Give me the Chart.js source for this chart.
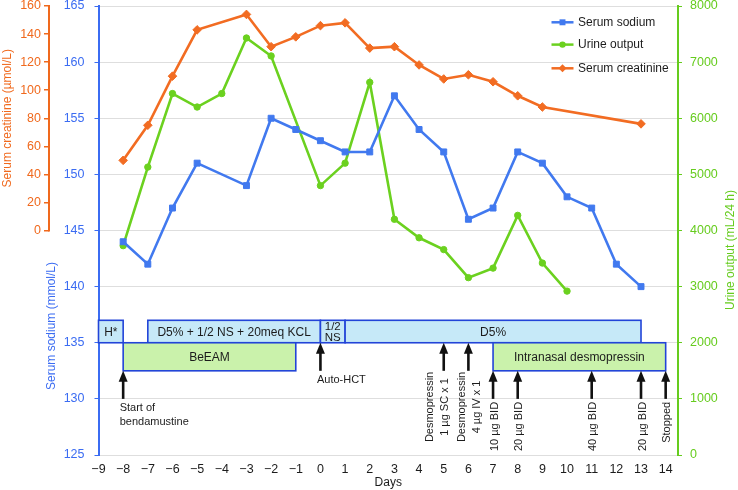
<!DOCTYPE html>
<html>
<head>
<meta charset="utf-8">
<title>Serum sodium, urine output and serum creatinine</title>
<script src="https://cdn.jsdelivr.net/npm/chart.js@4.4.1/dist/chart.umd.min.js"></script>
<style>
  html, body { margin: 0; padding: 0; background: #fff; }
  #mycanvas { display: block; }
</style>
</head>
<body>
<canvas id="mycanvas" width="738" height="490"></canvas>
<script>
// ---- data ----
var days       = [-8, -7, -6, -5, -4, -3, -2, -1, 0, 1, 2, 3, 4, 5, 6, 7, 8, 9, 10, 11, 12, 13];
var sodium     = [144, 142, 147, 151, null, 149, 155, 154, 153, 152, 152, 157, 154, 152, 146, 147, 152, 151, 148, 147, 142, 140];
var urine      = [3730, 5130, 6440, 6200, 6440, 7430, 7110, null, 4800, 5200, 6640, 4200, 3870, 3660, 3160, 3330, 4270, 3420, 2920, null, null, null];
var creatinine = [50, 75, 110, 143, null, 154, 131, 138, 146, 148, 130, 131, 118, 108, 111, 106, 96, 88, null, null, null, 76];

// treatment bars (days)
var barFrom = [-9, -7, 0, 1, -8, 7];
var barTo   = [-8, 0, 1, 13, -1, 14];
var barRow  = ['iv', 'iv', 'iv', 'iv', 'drug', 'drug'];
var barText = ['H*', 'D5% + 1/2 NS + 20meq KCL', '1/2\nNS', 'D5%', 'BeEAM', 'Intranasal desmopressin'];

// events
var eventDay  = [-8, 0, 5, 6, 7, 8, 11, 13, 14];
var eventText = ['Start of\nbendamustine', 'Auto-HCT', 'Desmopressin\n1 \u00b5g SC x 1', 'Desmopressin\n4 \u00b5g IV x 1',
                 '10 \u00b5g BID', '20 \u00b5g BID', '40 \u00b5g BID', '20 \u00b5g BID', 'Stopped'];

// ---- styles ----
var FONT = '"Liberation Sans", Arial, Helvetica, sans-serif';
Chart.defaults.font.family = FONT;
Chart.defaults.font.size = 12;

var blue = '#4179ef', green = '#6bd11f', orange = '#f26c22';
var axisBlue = '#3b6cf2', axisGreen = '#66cc1e', axisOrange = '#f0691d';
var ink = '#1c1c1c';

function pts(vals) {
  return days.map(function (d, i) { return { x: d, y: vals[i] }; });
}

function lineSet(label, vals, axis, color, style, radius) {
  return {
    label: label,
    data: pts(vals),
    yAxisID: axis,
    borderColor: color,
    backgroundColor: color,
    borderWidth: 2.6,
    pointStyle: style,
    pointRadius: radius,
    pointBorderWidth: 1,
    pointBorderColor: color,
    pointBackgroundColor: color,
    tension: 0,
    spanGaps: true,
    clip: false
  };
}

var sets = [
  lineSet('Serum sodium', sodium, 'yNa', blue, 'rect', 4.2),
  lineSet('Urine output', urine, 'yU', green, 'circle', 3.2),
  lineSet('Serum creatinine', creatinine, 'yC', orange, 'rectRot', 4.3)
];

function drawMarker(ctx, style, x, y, r, color) {
  ctx.fillStyle = color;
  ctx.beginPath();
  if (style === 'rect') {
    var s = r * Math.SQRT1_2;
    ctx.rect(x - s, y - s, 2 * s, 2 * s);
  } else if (style === 'circle') {
    ctx.arc(x, y, r, 0, Math.PI * 2);
  } else {
    ctx.moveTo(x, y - r); ctx.lineTo(x + r, y); ctx.lineTo(x, y + r); ctx.lineTo(x - r, y); ctx.closePath();
  }
  ctx.fill();
}

// keep the plot area flush with the top/bottom gridlines
function fixWidth(w) {
  return function (s) {
    s.width = w;
    s.paddingTop = 0;
    s.paddingBottom = 0;
  };
}

function plainNumber(v) { return String(v); }

var extras = {
  id: 'extras',
  afterDatasetsDraw: function (chart) {
    var ctx = chart.ctx;
    var sx = chart.scales.x, su = chart.scales.yU, sc = chart.scales.yC;
    var i, k;
    ctx.save();

    // creatinine axis line only over 0..160
    ctx.strokeStyle = axisOrange;
    ctx.lineWidth = 2;
    ctx.beginPath();
    ctx.moveTo(sc.right, sc.getPixelForValue(0) + 1);
    ctx.lineTo(sc.right, sc.getPixelForValue(160) - 1);
    ctx.stroke();

    // treatment bars
    ctx.textAlign = 'center';
    ctx.textBaseline = 'middle';
    for (i = 0; i < barText.length; i++) {
      var row = barRow[i] === 'iv' ? [2000, 2400] : [1500, 2000];
      var x0 = sx.getPixelForValue(barFrom[i]), x1 = sx.getPixelForValue(barTo[i]);
      var y0 = su.getPixelForValue(row[1]), y1 = su.getPixelForValue(row[0]);
      ctx.fillStyle = barRow[i] === 'iv' ? '#c6e9f8' : '#caf2ab';
      ctx.fillRect(x0, y0, x1 - x0, y1 - y0);
      ctx.strokeStyle = '#2244d8';
      ctx.lineWidth = 1.6;
      ctx.strokeRect(x0, y0, x1 - x0, y1 - y0);
      ctx.fillStyle = ink;
      var lines = barText[i].split('\n');
      ctx.font = (lines.length > 1 ? '11.5px ' : '12px ') + FONT;
      var cy = (y0 + y1) / 2 - (lines.length - 1) * 5.8;
      for (k = 0; k < lines.length; k++) {
        ctx.fillText(lines[k], (x0 + x1) / 2, cy + k * 11.6 + 0.8);
      }
    }

    // event arrows and labels
    ctx.font = '11px ' + FONT;
    for (i = 0; i < eventDay.length; i++) {
      var d = eventDay[i];
      var onDrug = false;
      for (k = 0; k < barFrom.length; k++) {
        if (barRow[k] === 'drug' && d >= barFrom[k] && d <= barTo[k]) onDrug = true;
      }
      var tip = onDrug ? 1500 : 2000, tail = onDrug ? 1000 : 1500;
      var ax = sx.getPixelForValue(d), ty = su.getPixelForValue(tip), by = su.getPixelForValue(tail);

      ctx.strokeStyle = '#111';
      ctx.fillStyle = '#111';
      ctx.lineWidth = 2.6;
      ctx.beginPath();
      ctx.moveTo(ax, by);
      ctx.lineTo(ax, ty + 8);
      ctx.stroke();
      ctx.beginPath();
      ctx.moveTo(ax, ty);
      ctx.lineTo(ax - 4.5, ty + 11);
      ctx.lineTo(ax + 4.5, ty + 11);
      ctx.closePath();
      ctx.fill();

      var parts = eventText[i].split('\n');
      ctx.fillStyle = ink;
      if (d <= 0) {
        ctx.textAlign = 'left';
        ctx.textBaseline = 'middle';
        for (k = 0; k < parts.length; k++) {
          ctx.fillText(parts[k], ax - 3.5, by + 9 + k * 14);
        }
      } else {
        ctx.save();
        ctx.translate(ax, by);
        ctx.rotate(-Math.PI / 2);
        ctx.textBaseline = 'middle';
        if (parts.length === 1) {
          ctx.textAlign = 'right';
          ctx.fillText(parts[0], -3, 1.5);
        } else {
          var w = 0;
          for (k = 0; k < parts.length; k++) w = Math.max(w, ctx.measureText(parts[k]).width);
          var shift = d === 5 ? -6.5 : 1;
          ctx.textAlign = 'center';
          for (k = 0; k < parts.length; k++) {
            ctx.fillText(parts[k], -(w / 2 + 1), shift - 7 + k * 14.5);
          }
        }
        ctx.restore();
      }
    }

    // legend
    var legY = [22.3, 44.6, 68.3];
    var legStyle = ['rect', 'circle', 'rectRot'];
    var legR = [4.2, 3.2, 4];
    var legColor = [blue, green, orange];
    ctx.font = '12px ' + FONT;
    ctx.textAlign = 'left';
    ctx.textBaseline = 'middle';
    for (i = 0; i < sets.length; i++) {
      ctx.strokeStyle = legColor[i];
      ctx.lineWidth = 2.5;
      ctx.beginPath();
      ctx.moveTo(551.5, legY[i]);
      ctx.lineTo(573.5, legY[i]);
      ctx.stroke();
      drawMarker(ctx, legStyle[i], 562.5, legY[i], legR[i], legColor[i]);
      ctx.fillStyle = ink;
      ctx.fillText(sets[i].label, 578, legY[i] + 0.5);
    }
    ctx.restore();
  },
  afterDraw: function (chart) {
    var ctx = chart.ctx;
    var area = chart.chartArea;
    var sc = chart.scales.yC;
    ctx.save();
    ctx.font = '12px ' + FONT;
    ctx.textAlign = 'center';
    ctx.textBaseline = 'middle';

    function vtitle(text, x, y, color) {
      ctx.save();
      ctx.translate(x, y);
      ctx.rotate(-Math.PI / 2);
      ctx.fillStyle = color;
      ctx.fillText(text, 0, 0);
      ctx.restore();
    }
    vtitle('Serum creatinine (\u00b5mol/L)', 7.5, (sc.getPixelForValue(0) + sc.getPixelForValue(160)) / 2, axisOrange);
    vtitle('Serum sodium (mmol/L)', 52, 326, axisBlue);
    vtitle('Urine output (mL/24 h)', 730.5, 250, axisGreen);

    ctx.fillStyle = ink;
    ctx.fillText('Days', (area.left + area.right) / 2, 483);
    ctx.restore();
  }
};

var ctx = document.getElementById('mycanvas');

var chart = new Chart(ctx, {
  type: 'line',
  data: { datasets: sets },
  plugins: [extras],
  options: {
    responsive: false,
    animation: false,
    layout: { padding: { top: 6, left: 0, right: 0, bottom: 0 } },
    plugins: {
      legend: { display: false },
      tooltip: { enabled: false }
    },
    scales: {
      x: {
        type: 'linear',
        min: -9,
        max: 14.5,
        border: { display: false },
        grid: { display: false, drawTicks: false },
        ticks: {
          stepSize: 1,
          includeBounds: false,
          autoSkip: false,
          maxRotation: 0,
          color: ink,
          padding: 7,
          font: { size: 12.5 },
          callback: function (v) {
            return Number.isInteger(v) ? String(v).replace('-', '\u2212') : '';
          }
        },
        afterFit: function (s) { s.height = 35; }
      },
      yNa: {
        position: 'left',
        weight: 0,
        min: 125,
        max: 165,
        ticks: { stepSize: 5, color: axisBlue, padding: 10, autoSkip: false, font: { size: 12.5, lineHeight: 1 }, callback: plainNumber },
        grid: { color: '#dedede', tickColor: axisBlue, tickLength: 4 },
        border: { color: axisBlue, width: 2 },
        afterFit: fixWidth(49.5)
      },
      yC: {
        position: 'left',
        weight: 1,
        min: -160,
        max: 160,
        afterBuildTicks: function (s) {
          s.ticks = s.ticks.filter(function (t) { return t.value >= 0; });
        },
        ticks: { stepSize: 20, color: axisOrange, padding: 3, autoSkip: false, font: { size: 12.5, lineHeight: 1 }, callback: plainNumber },
        grid: { drawOnChartArea: false, color: axisOrange, tickLength: 5, lineWidth: 1.5 },
        border: { display: false },
        afterFit: fixWidth(49)
      },
      yU: {
        position: 'right',
        min: 0,
        max: 8000,
        ticks: { stepSize: 1000, color: axisGreen, padding: 8, autoSkip: false, font: { size: 12.5, lineHeight: 1 }, callback: plainNumber },
        grid: { drawOnChartArea: false, color: axisGreen, tickLength: 4 },
        border: { color: axisGreen, width: 2 },
        afterFit: fixWidth(60)
      }
    }
  }
});
</script>
</body>
</html>
